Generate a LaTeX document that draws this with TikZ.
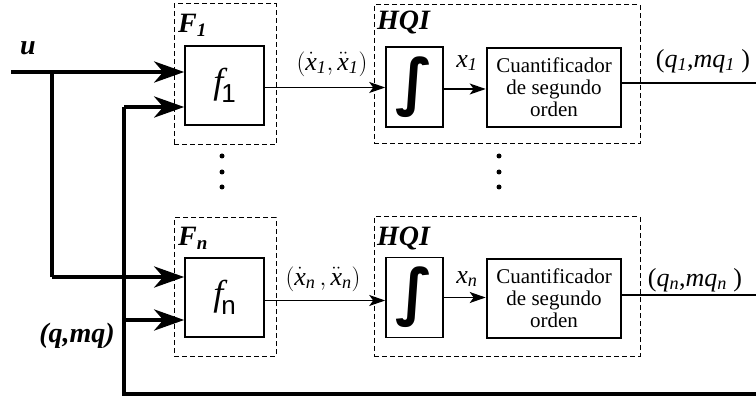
\documentclass[tikz,border=0pt]{standalone}
\usepackage{amsmath}
\usepackage{fontspec}
\setmainfont{Liberation Serif}
\newfontfamily\sansf{Liberation Sans}
\newfontfamily\djv{DejaVu Sans}
\usetikzlibrary{arrows.meta}
\begin{document}
\begin{tikzpicture}[x=1pt,y=-1pt,
  dashbox/.style={draw,line width=1pt,dash pattern=on 5pt off 3pt,inner sep=0pt},
  fbox/.style={draw,line width=1.6pt,minimum width=79pt,minimum height=79pt,inner sep=0pt},
  intbox/.style={draw,line width=1.6pt,minimum width=57pt,minimum height=80pt,inner sep=0pt},
  qbox/.style={draw,line width=2.6pt,minimum width=134pt,minimum height=79pt,inner sep=0pt,align=center,font=\fontsize{21}{22}\selectfont},
  thickarr/.style={line width=4.2pt,-{Stealth[length=30pt,width=21pt,inset=9pt]}},
  thickln/.style={line width=4.2pt},
  thinarr/.style={line width=1.3pt,-{Stealth[length=16pt,width=11pt,inset=4pt]}},
  thinln/.style={line width=1.3pt},
  bilab/.style={font=\fontsize{28}{28}\selectfont\bfseries\itshape,inner sep=0pt},
  lab/.style={font=\fontsize{26}{26}\selectfont,inner sep=0pt},
  dotc/.style={fill,circle,inner sep=0pt,minimum size=5pt}]
\useasboundingbox (0,0) rectangle (756,401);
% dashed groups
\node[dashbox,minimum width=102pt,minimum height=141pt] (F1) at (225,74.5) {};
\node[dashbox,minimum width=266pt,minimum height=139pt] (H1) at (507,74.5) {};
\node[dashbox,minimum width=102pt,minimum height=138pt] (Fn) at (225,287) {};
\node[dashbox,minimum width=266pt,minimum height=139pt] (Hn) at (507,286.5) {};
% group labels
\node[bilab,anchor=west] (F1l) at (178,25) {F\textsubscript{\fontsize{19}{19}\selectfont 1}};
\node[bilab,anchor=west] (H1l) at (377,23) {HQI};
\node[bilab,anchor=west] (Fnl) at (178,238) {F\textsubscript{\fontsize{19}{19}\selectfont n}};
\node[bilab,anchor=west] (Hnl) at (377,239) {HQI};
% blocks
\node[fbox] (f1) at (224.5,85.5) {\fontsize{36}{36}\selectfont\itshape f\kern-2pt\raisebox{-9pt}{\upshape\sansf\fontsize{26}{26}\selectfont 1}};
\node[fbox] (fn) at (224.5,297.5) {\fontsize{36}{36}\selectfont\itshape f\kern-2pt\raisebox{-9pt}{\upshape\sansf\fontsize{26}{26}\selectfont n}};
\node[intbox] (i1) at (414.5,87) {\djv\bfseries\fontsize{62}{62}\selectfont ∫};
\node[intbox] (in) at (414.5,297.5) {\djv\bfseries\fontsize{62}{62}\selectfont ∫};
\node[qbox] (q1) at (554,87.5) {Cuantificador\\de segundo\\orden};
\node[qbox] (qn) at (554,298.5) {Cuantificador\\de segundo\\orden};
% coordinates
\coordinate (uin) at (11,72);
\coordinate (ubr) at (52,72);
\coordinate (ubr2) at (52,277);
\coordinate (fbA) at (124,107);
\coordinate (fbB) at (124,320);
\coordinate (fbC) at (124,394);
\coordinate (fbR) at (756,394);
\coordinate (o1) at (756,83);
\coordinate (on) at (756,295);
% thick input connectors
\draw[thickarr] (uin) -- (uin -| f1.west);
\draw[thickln] (ubr) -- (ubr2);
\draw[thickarr] (ubr2) -- (ubr2 -| fn.west);
\draw[thickln,line join=miter] (fbR) -- (fbC) -- (fbA);
\draw[thickarr] (fbA) -- (fbA -| f1.west);
\draw[thickarr] (fbB) -- (fbB -| fn.west);
% thin connectors
\draw[thinarr] ([yshift=-2pt]f1.east) -- ([yshift=-2pt]f1.east -| i1.west);
\draw[thinarr] ([yshift=-2pt]i1.east) -- ([yshift=-2pt]i1.east -| q1.west);
\draw[thinln] (q1.east |- o1) -- (o1);
\draw[thinarr] ([yshift=-3pt]fn.east) -- ([yshift=-3pt]fn.east -| in.west);
\draw[thinarr] (in.east) -- (in.east -| qn.west);
\draw[thinln] (qn.east |- on) -- (on);
% labels
\node[bilab] (ul) at (28,48) {u};
\node[bilab] (qml) at (77,336) {(q,mq)};
\node[lab] (d1) at (332,64) {$(\dot{\textit{x}}_{\textit{1}},\ddot{\textit{x}}_{\textit{1}})$};
\node[lab] (dn) at (323,279) {$(\dot{\textit{x}}_{\textit{n}}\,,\ddot{\textit{x}}_{\textit{n}})$};
\node[lab] (x1l) at (467,63) {\textit{x}\textsubscript{\textit{1}}};
\node[lab] (xnl) at (467,279) {\textit{x}\textsubscript{\textit{n}}};
\node[lab] (o1l) at (703,61) {(\textit{q}\textsubscript{\textit{1}},\textit{mq}\textsubscript{\textit{1}} )};
\node[lab] (onl) at (695,280) {(\textit{q}\textsubscript{\textit{n}},\textit{mq}\textsubscript{\textit{n}} )};
% ellipsis dots
\foreach \yy [count=\k] in {156,172,187} {
  \node[dotc] (da\k) at (222,\yy) {};
  \node[dotc] (db\k) at (499,\yy) {};
}
\end{tikzpicture}
\end{document}
